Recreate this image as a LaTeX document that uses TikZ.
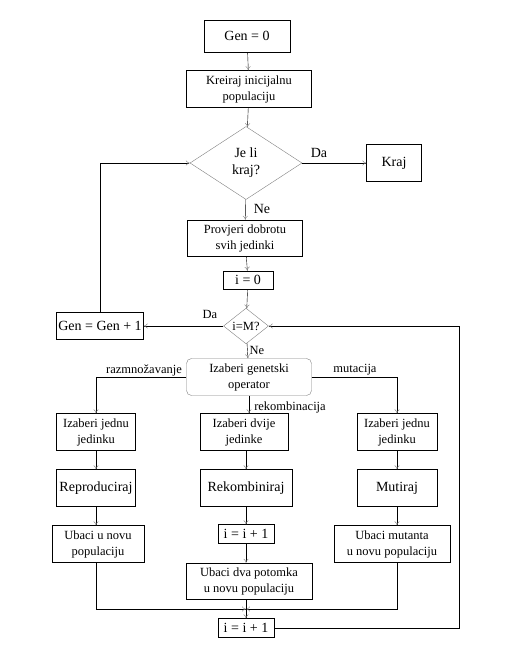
\documentclass[tikz,border=0pt]{standalone}
\usepackage{fontspec}
\setmainfont{Liberation Serif}
\usepackage{tikz}
\usetikzlibrary{arrows.meta,shapes.geometric}
\tikzset{
  box/.style={draw,rectangle,align=center,inner sep=1pt,minimum height=37pt,font=\fontsize{12.5}{16}\selectfont},
  bigbox/.style={box,font=\fontsize{14}{17}\selectfont},
  decide/.style={draw=gray,diamond,align=center,inner sep=0pt,font=\fontsize{14}{17}\selectfont},
  roundbox/.style={box,draw=gray,rounded corners=5pt},
  lbl/.style={inner sep=0pt,font=\fontsize{12.5}{15}\selectfont},
  arr/.style={-{To[color=gray,length=4pt,width=5pt]}}
}
\begin{document}
\begin{tikzpicture}[x=1pt,y=-1pt]
              \useasboundingbox[fill=white](0,0)rectangle(506,663);
              \node[bigbox,minimum width=86pt,minimum height=32pt](gen)at(247,36){Gen = 0};
              \node[box,minimum width=125pt](init)at(249,89){Kreiraj inicijalnu\\populaciju};
              \node[decide,minimum width=112pt,minimum height=73pt](end)at(246,163){Je li\\kraj?};
              \node[bigbox,minimum width=55pt](kraj)at(394,163){Kraj};
              \node[box,minimum width=115pt,minimum height=36pt](fit)at(245,238){Provjeri dobrotu\\svih jedinki};
              \node[bigbox,minimum width=50pt,minimum height=18pt](izero)at(248,280){i = 0};
              \node[decide,minimum width=45pt,minimum height=35pt,font=\fontsize{12.5}{15}\selectfont](im)at(246,326){i=M?};
              \node[bigbox,minimum width=87pt,minimum height=27pt](gnext)at(100,326){Gen = Gen + 1};
              \node[roundbox,minimum width=125pt](op)at(249,377){Izaberi genetski\\operator};
              \node[box,minimum width=79pt](selone)at(96,432){Izaberi jednu\\jedinku};
              \node[box,minimum width=88pt](seltwo)at(244,432){Izaberi dvije\\jedinke};
              \node[box,minimum width=80pt](selmut)at(397,432){Izaberi jednu\\jedinku};
              \node[bigbox,minimum width=79pt](repr)at(96,488){Reproduciraj};
              \node[bigbox,minimum width=92pt](rekomb)at(246,488){Rekombiniraj};
              \node[bigbox,minimum width=80pt](mut)at(397,488){Mutiraj};
              \node[box,minimum width=92pt](insone)at(98,544){Ubaci u novu\\populaciju};
              \node[bigbox,minimum width=56pt,minimum height=19pt](iinc)at(246,534){i = i + 1};
              \node[box,minimum width=116pt](insmut)at(392,544){Ubaci mutanta\\u novu populaciju};
              \node[box,minimum width=126pt,minimum height=36pt](instwo)at(249,581){Ubaci dva potomka\\u novu populaciju};
              \node[bigbox,minimum width=56pt,minimum height=19pt](inext)at(246,628){i = i + 1};
              \coordinate(join)at(246,609);
              \coordinate(back)at(459,326);
              \node[lbl,font=\fontsize{14}{17}\selectfont](da)at(319,153){Da};
              \node[lbl,font=\fontsize{14}{17}\selectfont](ne)at(262,209){Ne};
              \node[lbl](dai)at(210,314){Da};
              \node[lbl](nei)at(257,350){Ne};
              \node[lbl](lraz)at(144,370){razmnožavanje};
              \node[lbl](lmut)at(355,370){mutacija};
              \node[lbl](lrek)at(290,407){rekombinacija};
              \draw[arr](gen)--(init);
              \draw[arr](init)--(end);
              \draw[arr](end)--(kraj);
              \draw[arr](end)--(fit);
              \draw[arr](fit)--(izero);
              \draw[arr](izero)--(im);
              \draw[arr](im)--(gnext);
              \draw[arr](gnext.north)|-(end.west);
              \draw[arr](im)--(op);
              \draw[arr](op.west)-|(selone.north);
              \draw[arr](op.south)--(seltwo.north-|op.south);
              \draw[arr](op.east)-|(selmut.north);
              \draw[arr](selone)--(repr);
              \draw[arr](repr)--(insone.north-|repr.south);
              \draw[arr](seltwo.south-|rekomb.north)--(rekomb);
              \draw[arr](rekomb)--(iinc);
              \draw[arr](iinc)--(instwo.north-|iinc.south);
              \draw[arr](selmut)--(mut);
              \draw[arr](mut)--(insmut.north-|mut.south);
              \draw[arr](insone.south-|repr.south)|-(join);
              \draw[arr](insmut.south-|mut.south)|-(join);
              \draw[arr](instwo.south-|inext.north)--(inext);
              \draw[arr](inext.east)-|(back)--(im.east);
            \end{tikzpicture}
\end{document}
